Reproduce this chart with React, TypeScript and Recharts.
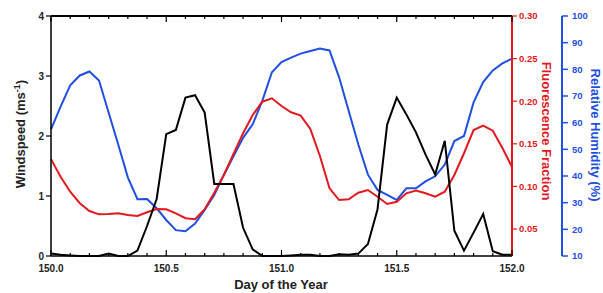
import React from 'react';
import { LineChart, Line, XAxis, YAxis } from 'recharts';

// hourly samples from day 150.0 to 152.0
const HOUR = [0,1,2,3,4,5,6,7,8,9,10,11,12,13,14,15,16,17,18,19,20,21,22,23,24,25,26,27,28,29,30,31,32,33,34,35,36,37,38,39,40,41,42,43,44,45,46,47,48];

const WINDSPEED = [0.04,0.02,0.01,0,0,0,0.04,0,0,0.09,0.5,0.95,2.03,2.1,2.64,2.68,2.39,1.2,1.2,1.2,0.47,0.11,0,0,0,0.01,0.02,0.02,0,0,0.03,0.02,0.04,0.2,0.78,2.19,2.64,2.36,2.06,1.69,1.36,1.92,0.42,0.09,0.39,0.7,0.08,0.02,0.02];

const FLUOR = [0.132,0.1114,0.0938,0.0802,0.0711,0.0672,0.0676,0.0684,0.0664,0.0653,0.0696,0.0735,0.0731,0.0684,0.0626,0.0614,0.0731,0.0926,0.1134,0.138,0.1623,0.1838,0.1994,0.2034,0.1944,0.187,0.183,0.1674,0.1357,0.0978,0.084,0.0848,0.0926,0.0958,0.0879,0.0793,0.082,0.0919,0.095,0.0919,0.0879,0.0938,0.1134,0.1389,0.1662,0.1713,0.1654,0.145,0.1228];

const RH = [57.5,66,74,77.7,79.2,75.8,63.8,51.8,39.5,31.3,31.4,27.9,23.5,19.7,19.3,22.2,27.3,32.9,40.4,47.4,54.3,59.4,68.2,78.9,82.7,84.4,85.9,86.9,87.8,87.1,77.0,64.4,51.8,40.5,34.8,32.9,31.0,35.4,35.4,38.0,39.9,44.3,53.1,55.0,67.6,75.2,79.6,82.2,84.0];

const TICK_HOURS = [0,2,4,6,8,10,12,14,16,18,20,22,24,26,28,30,32,34,36,38,40,42,44,46,48];
const WS_TICKS = [0,1,2,3,4];
const FL_TICKS = [0.05,0.1,0.15,0.2,0.25,0.3];
const RH_TICKS = [10,20,30,40,50,60,70,80,90,100];

const RED = '#e3191f';
const BLUE = '#1f4fe3';
const FONT = '"Liberation Sans", Arial, Helvetica, sans-serif';

const data = HOUR.map((h, i) => ({
  day: 150 + h / 24,
  ws: WINDSPEED[i],
  fl: FLUOR[i],
  rh: RH[i],
}));
const X_TICKS = TICK_HOURS.map((h) => 150 + h / 24);

const isMajor = (v: number) => Math.abs(v * 2 - Math.round(v * 2)) < 1e-6;

const BottomTick = (props: any) => {
  const { x, y, payload } = props;
  const v = payload.value as number;
  const major = isMajor(v);
  return (
    <g>
      <line x1={x} x2={x} y1={y} y2={y - (major ? 6 : 3)} stroke="#000" strokeWidth={1.2} />
      {major && (
        <text x={x} y={y + 16} textAnchor="middle" fontSize={10} fontWeight="bold" fill="#222" fontFamily={FONT}>
          {v.toFixed(1)}
        </text>
      )}
    </g>
  );
};

const TopTick = (props: any) => {
  const { x, y, payload } = props;
  const v = payload.value as number;
  const major = isMajor(v);
  return <line x1={x} x2={x} y1={y} y2={y + (major ? 6 : 3)} stroke="#000" strokeWidth={1.2} />;
};

export default function App() {
  return (
    <div style={{ position: 'absolute', left: 0, top: 0, width: 603, height: 293, background: '#fff' }}>
      <LineChart width={603} height={293} data={data} margin={{ top: 0, right: 0, bottom: 0, left: 0 }}>
        <XAxis
          xAxisId="x"
          dataKey="day"
          type="number"
          domain={[150, 152]}
          ticks={X_TICKS}
          interval={0}
          height={37}
          tickSize={0}
          tickMargin={0}
          tickLine={false}
          tick={<BottomTick />}
          axisLine={{ stroke: '#000', strokeWidth: 1.5 }}
        />
        <XAxis
          xAxisId="top"
          orientation="top"
          dataKey="day"
          type="number"
          domain={[150, 152]}
          ticks={X_TICKS}
          interval={0}
          height={16}
          tickSize={0}
          tickMargin={0}
          tickLine={false}
          tick={<TopTick />}
          axisLine={{ stroke: '#000', strokeWidth: 1.8 }}
        />
        <YAxis
          yAxisId="ws"
          orientation="left"
          width={51}
          domain={[0, 4]}
          ticks={WS_TICKS}
          interval={0}
          tickSize={5}
          tickMargin={2}
          axisLine={{ stroke: '#000', strokeWidth: 1.5 }}
          tickLine={{ stroke: '#000', strokeWidth: 1.2 }}
          tick={{ fill: '#222', fontSize: 10, fontWeight: 'bold', fontFamily: FONT }}
        />
        <YAxis
          yAxisId="fl"
          orientation="right"
          width={50}
          domain={[0.0183, 0.3]}
          allowDataOverflow
          ticks={FL_TICKS}
          interval={0}
          tickSize={5}
          tickMargin={2}
          tickFormatter={(v: number) => v.toFixed(2)}
          axisLine={{ stroke: RED, strokeWidth: 2 }}
          tickLine={{ stroke: RED, strokeWidth: 1.2 }}
          tick={{ fill: RED, fontSize: 9.5, fontWeight: 'bold', fontFamily: FONT }}
        />
        <YAxis
          yAxisId="rh"
          orientation="right"
          width={41}
          domain={[10, 100]}
          allowDataOverflow
          ticks={RH_TICKS}
          interval={0}
          tickSize={6}
          tickMargin={4}
          axisLine={{ stroke: BLUE, strokeWidth: 2 }}
          tickLine={{ stroke: BLUE, strokeWidth: 1.5 }}
          tick={{ fill: BLUE, fontSize: 9.5, fontWeight: 'bold', fontFamily: FONT }}
        />
        <Line xAxisId="x" yAxisId="rh" dataKey="rh" stroke={BLUE} strokeWidth={2} dot={false} isAnimationActive={false} />
        <Line xAxisId="top" yAxisId="fl" dataKey="fl" stroke={RED} strokeWidth={2} dot={false} isAnimationActive={false} />
        <Line xAxisId="x" yAxisId="ws" dataKey="ws" stroke="#000" strokeWidth={2} dot={false} isAnimationActive={false} />
      </LineChart>
      <svg width={603} height={293} style={{ position: 'absolute', left: 0, top: 0, pointerEvents: 'none' }}>
        <text
          transform="translate(24.5,134) rotate(-90)"
          textAnchor="middle"
          fontSize={13}
          fontWeight="bold"
          fill="#222"
          fontFamily={FONT}
        >
          <tspan>Windspeed (ms</tspan>
          <tspan dy={-5} fontSize={9}>-1</tspan>
          <tspan dy={5}>)</tspan>
        </text>
        <text
          transform="translate(542,131) rotate(90)"
          textAnchor="middle"
          fontSize={13}
          fontWeight="bold"
          fill={RED}
          fontFamily={FONT}
        >
          Fluorescence Fraction
        </text>
        <text
          transform="translate(591,135) rotate(90)"
          textAnchor="middle"
          fontSize={13}
          fontWeight="bold"
          fill={BLUE}
          fontFamily={FONT}
        >
          Relative Humidity (%)
        </text>
        <text x={281} y={289} textAnchor="middle" fontSize={13} fontWeight="bold" fill="#222" fontFamily={FONT}>
          Day of the Year
        </text>
      </svg>
    </div>
  );
}
